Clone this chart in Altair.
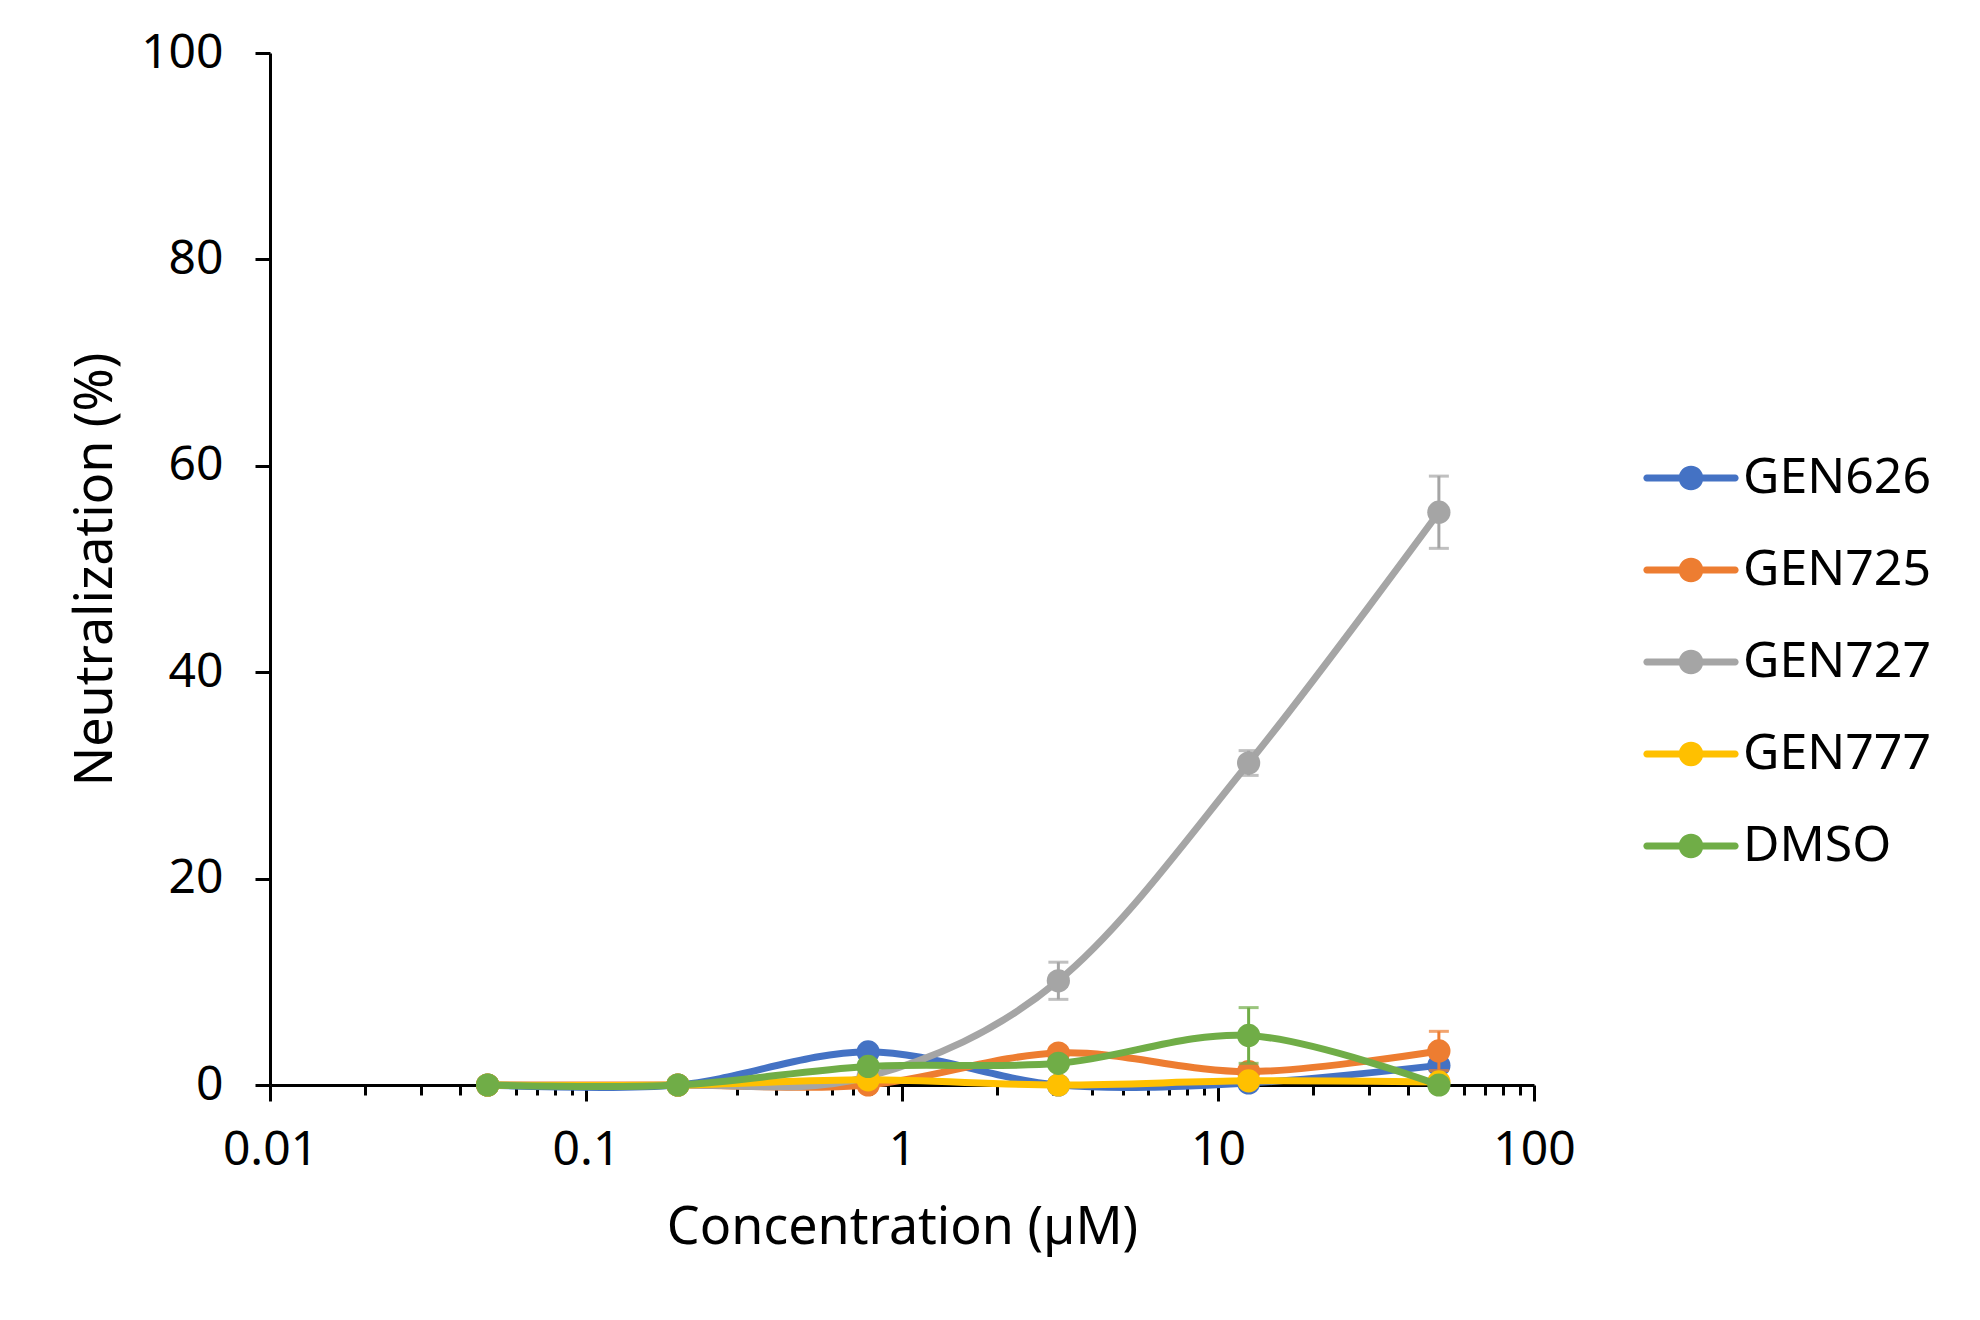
import altair as alt
import pandas as pd

conc = [0.048828125, 0.1953125, 0.78125, 3.125, 12.5, 50]
series_names = ["GEN626", "GEN725", "GEN727", "GEN777", "DMSO"]
colors = ["#4472C4", "#ED7D31", "#A5A5A5", "#FFC000", "#70AD47"]

gen626 = [0, 0, 3.2, 0, 0.2, 1.9]
gen725 = [0, 0, 0, 3.1, 1.3, 3.3]
gen727 = [0, 0, 0.8, 10.1, 31.2, 55.5]
gen777 = [0, 0, 0.5, 0, 0.4, 0.3]
dmso = [0, 0, 1.8, 2.1, 4.8, 0]

err626 = [0, 0, 0, 0, 0, 0]
err725 = [0, 0, 0, 0, 0, 1.9]
err727 = [0, 0, 0, 1.8, 1.2, 3.5]
err777 = [0, 0, 0, 0, 0, 0]
errdmso = [0, 0, 0, 0, 2.7, 0]

x_major = [0.01, 0.1, 1, 10, 100]
x_minor = [m * 10 ** d for d in range(-2, 2) for m in range(2, 10)]
y_ticks = [0, 20, 40, 60, 80, 100]

values = [gen626, gen725, gen727, gen777, dmso]
errors = [err626, err725, err727, err777, errdmso]

rows = []
for name, vals, errs in zip(series_names, values, errors):
    for c, v, e in zip(conc, vals, errs):
        rows.append({"series": name, "conc": c, "value": v, "err": e,
                     "lo": v - e, "hi": v + e})
df = pd.DataFrame(rows)

FONT = "Noto Sans"
LABEL_SIZE = 48

legend = alt.Legend(
    title=None,
    orient="none",
    legendX=1396,
    legendY=400,
    symbolType=("M-1.9,-0.15H1.9A0.15,0.15,0,0,1,1.9,0.15H-1.9A0.15,0.15,0,0,1,-1.9,-0.15Z "
                "M-0.53,0A0.53,0.53,0,1,1,0.53,0A0.53,0.53,0,1,1,-0.53,0Z"),
    symbolSize=2162,
    symbolStrokeWidth=0,
    symbolOpacity=1,
    labelFontSize=50,
    labelFont=FONT,
    labelColor="black",
    labelOffset=27,
    rowPadding=42,
    padding=0,
    labelLimit=400,
)

color_leg = alt.Color("series:N",
                      scale=alt.Scale(domain=series_names, range=colors),
                      legend=legend)

xscale = alt.Scale(type="log", domain=[0.01, 100])
yscale = alt.Scale(domain=[0, 100])

x_axis = alt.Axis(
    orient="bottom",
    values=x_major,
    title="Concentration (µM)",
    format="~g",
    labelOverlap=False,
    labelBound=False,
    labelFlush=False,
    grid=False,
    tickSize=16,
    tickWidth=3,
    tickColor="black",
    domainColor="black",
    domainWidth=3,
    labelFontSize=LABEL_SIZE,
    labelFont=FONT,
    labelColor="black",
    labelPadding=25,
    titleFontSize=52,
    titleFont=FONT,
    titleFontWeight="normal",
    titleColor="black",
    titlePadding=28,
)

x_minor_axis = alt.Axis(
    orient="bottom",
    values=x_minor,
    labels=False,
    title=None,
    domain=False,
    grid=False,
    tickSize=10,
    tickWidth=3,
    tickColor="black",
)

y_axis = alt.Axis(
    values=y_ticks,
    title="Neutralization (%)",
    grid=False,
    tickSize=15,
    tickWidth=3,
    tickColor="black",
    domainColor="black",
    domainWidth=3,
    labelFontSize=LABEL_SIZE,
    labelFont=FONT,
    labelColor="black",
    labelPadding=32,
    titleFontSize=52,
    titleFont=FONT,
    titleFontWeight="normal",
    titleColor="black",
    titlePadding=18,
)

x_enc = alt.X("conc:Q", scale=xscale, axis=x_axis)
x_minor_enc = alt.X("conc:Q", scale=xscale, axis=x_minor_axis)
y_enc = alt.Y("value:Q", scale=yscale, axis=y_axis)

base = alt.Chart(df)
layers = []
for name, col in zip(series_names, colors):
    sel = base.transform_filter(alt.datum.series == name)
    errsel = sel.transform_filter(alt.datum.err > 0)
    layers.append(errsel.mark_rule(strokeWidth=3, color=col).encode(
        x=x_enc, y=alt.Y("lo:Q", scale=yscale, axis=y_axis), y2="hi:Q"))
    layers.append(errsel.mark_tick(orient="horizontal", size=20, thickness=3, color=col).encode(
        x=x_enc, y=alt.Y("hi:Q", scale=yscale, axis=y_axis)))
    layers.append(errsel.mark_tick(orient="horizontal", size=20, thickness=3, color=col).encode(
        x=x_enc, y=alt.Y("lo:Q", scale=yscale, axis=y_axis)))
    layers.append(sel.mark_line(strokeWidth=7, interpolate="cardinal", color=col).encode(
        x=x_enc, y=y_enc, order="conc:Q"))
    layers.append(sel.mark_point(filled=True, size=540, opacity=1).encode(
        x=x_enc, y=y_enc, color=color_leg))

main = alt.layer(*layers)
minor = base.mark_point(opacity=0).encode(x=x_minor_enc, y=y_enc)

chart = alt.layer(main, minor).resolve_axis(x="independent").properties(
    width=1264,
    height=1032,
    autosize=alt.AutoSizeParams(type="none"),
    padding={"left": 262, "top": 45, "right": 420, "bottom": 215},
    background="white",
).configure_view(stroke=None)

chart.save("out.html", embed_options={"renderer": "svg", "actions": False})
